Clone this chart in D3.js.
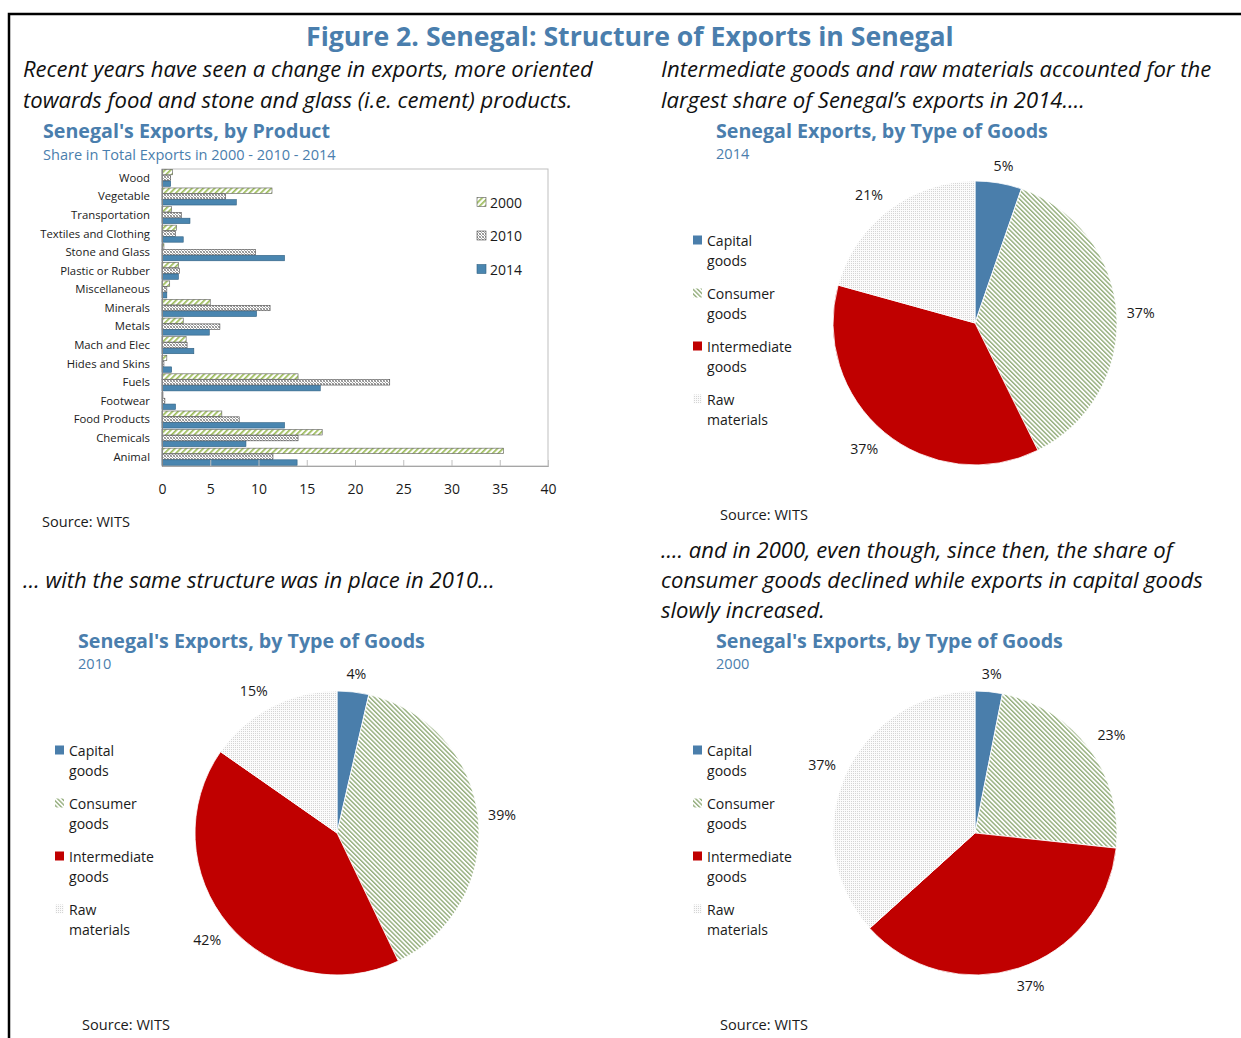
<!DOCTYPE html>
<html><head><meta charset="utf-8">
<script src="https://cdn.jsdelivr.net/npm/d3@7"></script>
<style>body{margin:0;background:#fff}svg{display:block}</style>
</head><body>
<script>
// ---------- DATA ----------
const categories = ["Wood","Vegetable","Transportation","Textiles and Clothing","Stone and Glass","Plastic or Rubber","Miscellaneous","Minerals","Metals","Mach and Elec","Hides and Skins","Fuels","Footwear","Food Products","Chemicals","Animal"];
const years = ["2000","2010","2014"];
const share2000 = [1.1, 11.4, 1.0, 1.5, 0.2, 1.7, 0.8, 5.0, 2.2, 2.5, 0.5, 14.1, 0.1, 6.2, 16.6, 35.4];
const share2010 = [0.9, 6.6, 2.0, 1.4, 9.7, 1.8, 0.5, 11.2, 6.0, 2.6, 0.2, 23.6, 0.3, 8.0, 14.1, 11.5];
const share2014 = [0.9, 7.7, 2.9, 2.2, 12.7, 1.7, 0.5, 9.8, 4.9, 3.3, 1.0, 16.4, 1.4, 12.7, 8.7, 14.0];
const xTicks = [0,5,10,15,20,25,30,35,40];

const goodsTypes = ["Capital goods","Consumer goods","Intermediate goods","Raw materials"];
const goods2014 = [5.3, 37.4, 36.6, 20.7];
const goods2010 = [3.6, 39.3, 41.8, 15.3];
const goods2000 = [3.1, 23.6, 36.6, 36.7];
const labels2014 = ["5%","37%","37%","21%"];
const labels2010 = ["4%","39%","42%","15%"];
const labels2000 = ["3%","23%","37%","37%"];

// ---------- SETUP ----------
const W = 1241, H = 1038;
const FONT = "'Open Sans', 'Noto Sans', sans-serif";
const BLUE_T = "#4a7ead";
const svg = d3.select("body").append("svg").attr("width", W).attr("height", H)
  .style("font-family", FONT);

const defs = svg.append("defs");
// consumer goods: fine green diagonal "\" lines
const pCons = defs.append("pattern").attr("id","pCons").attr("patternUnits","userSpaceOnUse")
  .attr("width",3.2).attr("height",3.2).attr("patternTransform","rotate(-45)");
pCons.append("rect").attr("width",3.2).attr("height",3.2).attr("fill","#fff");
pCons.append("rect").attr("width",1.4).attr("height",3.2).attr("fill","#93ad7b");
// raw materials: faint dot grid
const pRaw = defs.append("pattern").attr("id","pRaw").attr("patternUnits","userSpaceOnUse")
  .attr("width",2).attr("height",2);
pRaw.append("rect").attr("width",2).attr("height",2).attr("fill","#fbfbfb");
pRaw.append("rect").attr("width",1).attr("height",1).attr("fill","#d4d4d4");
// 2000 bars: green "/" stripes
const p2000 = defs.append("pattern").attr("id","p2000").attr("patternUnits","userSpaceOnUse")
  .attr("width",4).attr("height",4).attr("patternTransform","rotate(45)");
p2000.append("rect").attr("width",4).attr("height",4).attr("fill","#fff");
p2000.append("rect").attr("width",1.7).attr("height",4).attr("fill","#9bbb59");
// 2010 bars: gray small checker / cross hatch
const p2010 = defs.append("pattern").attr("id","p2010").attr("patternUnits","userSpaceOnUse")
  .attr("width",3).attr("height",3);
p2010.append("rect").attr("width",3).attr("height",3).attr("fill","#fff");
p2010.append("rect").attr("x",0).attr("y",0).attr("width",1).attr("height",1).attr("fill","#8c8c8c");
p2010.append("rect").attr("x",1).attr("y",1).attr("width",1).attr("height",1).attr("fill","#a6a6a6");
p2010.append("rect").attr("x",2).attr("y",2).attr("width",1).attr("height",1).attr("fill","#8c8c8c");
p2010.append("rect").attr("x",2).attr("y",0).attr("width",1).attr("height",1).attr("fill","#b0b0b0");
p2010.append("rect").attr("x",0).attr("y",2).attr("width",1).attr("height",1).attr("fill","#b0b0b0");

// helper: place text and fit to a target width
function txt(g, s, x, y, opts) {
  const t = g.append("text").attr("x", x).attr("y", y).text(s)
    .attr("font-size", opts.size || 14)
    .attr("fill", opts.fill || "#1a1a1a")
    .attr("dominant-baseline", "central");
  if (opts.weight) t.attr("font-weight", opts.weight);
  if (opts.italic) t.attr("font-style", "italic");
  if (opts.anchor) t.attr("text-anchor", opts.anchor);
  if (opts.width) {
    const l = t.node().getComputedTextLength();
    t.attr("font-size", (opts.size || 14) * opts.width / l);
  }
  return t;
}
function fitSize(s, width, base, weight, italic) {
  const t = svg.append("text").text(s).attr("font-size", base);
  if (weight) t.attr("font-weight", weight);
  if (italic) t.attr("font-style", "italic");
  const l = t.node().getComputedTextLength();
  t.remove();
  return base * width / l;
}

// frame
svg.append("rect").attr("x", 9).attr("y", 14).attr("width", 1300).attr("height", 1100)
  .attr("fill", "none").attr("stroke", "#000").attr("stroke-width", 2.5);

// main title
txt(svg, "Figure 2. Senegal: Structure of Exports in Senegal", 306, 35.5, {size: 26, weight: 700, fill: BLUE_T, width: 648});

// italic narrative
const itSize = fitSize("consumer goods declined while exports in capital goods", 542, 20, null, true);
const it = (s, x, y) => txt(svg, s, x, y, {size: itSize, italic: true, fill: "#111"});
it("Recent years have seen a change in exports, more oriented", 23, 68);
it("towards food and stone and glass (i.e. cement) products.", 23, 99);
it("Intermediate goods and raw materials accounted for the", 661, 68);
it("largest share of Senegal\u2019s exports in 2014\u2026.", 661, 99);
it("\u2026 with the same structure was in place in 2010\u2026", 23, 579);
it(".... and in 2000, even though, since then, the share of", 661, 549);
it("consumer goods declined while exports in capital goods", 661, 579);
it("slowly increased.", 661, 609);

const ttlSize = fitSize("Senegal's Exports, by Type of Goods", 347, 18, 700);
const subSize = fitSize("Share in Total Exports in 2000 - 2010 - 2014", 293, 13);
const srcSize = fitSize("Source: WITS", 88, 13);

// ---------- BAR CHART ----------
const bar = svg.append("g");
txt(bar, "Senegal's Exports, by Product", 43, 130, {size: ttlSize, weight: 700, fill: BLUE_T});
txt(bar, "Share in Total Exports in 2000 - 2010 - 2014", 43, 154, {size: subSize, fill: BLUE_T});
txt(bar, "Source: WITS", 42, 521, {size: srcSize});

const x = d3.scaleLinear().domain([0, 40]).range([162, 548]);
const y = d3.scaleBand().domain(categories).range([169, 466]).paddingInner(0.06).paddingOuter(0.02);
const ySub = d3.scaleBand().domain(years).range([0, y.bandwidth()]);
const series = {"2000": share2000, "2010": share2010, "2014": share2014};
const fills = {"2000": "url(#p2000)", "2010": "url(#p2010)", "2014": "#4a86b0"};
const strokes = {"2000": "#5a5a5a", "2010": "#4d4d4d", "2014": "#2f5f80"};

// plot area border
bar.append("rect").attr("x", x(0)).attr("y", 169).attr("width", x(40) - x(0)).attr("height", 466 - 169)
  .attr("fill", "none").attr("stroke", "#bfbfbf").attr("stroke-width", 1);

years.forEach(yr => {
  bar.append("g").selectAll("rect").data(categories).join("rect")
    .attr("x", x(0))
    .attr("y", (c) => y(c) + ySub(yr))
    .attr("width", (c, i) => x(series[yr][i]) - x(0))
    .attr("height", ySub.bandwidth() - 0.4)
    .attr("fill", fills[yr])
    .attr("stroke", strokes[yr]).attr("stroke-width", 0.6);
});

// x axis (ticks inward)
const xAxis = d3.axisBottom(x).tickValues(xTicks).tickSize(-6).tickPadding(18).tickFormat(d3.format("d"));
const gx = bar.append("g").attr("transform", "translate(0,466)").call(xAxis);
gx.select(".domain").attr("stroke", "#a6a6a6");
gx.selectAll(".tick line").attr("stroke", "#bfbfbf");
gx.selectAll(".tick text").attr("font-size", 14).attr("fill", "#1a1a1a").style("font-family", FONT);

// y axis
const catSize = fitSize("Textiles and Clothing", 110, 12);
const yAxis = d3.axisLeft(y).tickSize(0).tickPadding(12);
const gy = bar.append("g").attr("transform", `translate(${x(0)},0)`).call(yAxis);
gy.select(".domain").attr("stroke", "#868686");
gy.selectAll(".tick text").attr("font-size", catSize).attr("fill", "#1a1a1a").style("font-family", FONT);

// legend
const lgSize = fitSize("2000", 32, 14);
years.forEach((yr, i) => {
  const ly = 202 + i * 33.5;
  bar.append("rect").attr("x", 477).attr("y", ly - 4.5).attr("width", 9).attr("height", 9)
    .attr("fill", fills[yr]).attr("stroke", strokes[yr]).attr("stroke-width", 0.6);
  txt(bar, yr, 490, ly, {size: lgSize});
});

// ---------- PIES ----------
const pieFills = ["#4a7eab", "url(#pCons)", "#c00000", "url(#pRaw)"];
const legSize = fitSize("Intermediate", 85, 14);
const pctSize = fitSize("37%", 28, 14);

function drawPie(cfg) {
  const g = svg.append("g");
  txt(g, cfg.title, cfg.tx, cfg.ty, {size: ttlSize, weight: 700, fill: BLUE_T});
  txt(g, cfg.year, cfg.tx, cfg.ty + 23, {size: subSize, fill: BLUE_T});
  txt(g, "Source: WITS", cfg.sx, cfg.sy, {size: srcSize});

  const pie = d3.pie().sort(null).value(d => d)(cfg.values);
  const arc = d3.arc().innerRadius(0).outerRadius(cfg.r);
  const pg = g.append("g").attr("transform", `translate(${cfg.cx},${cfg.cy})`);
  pg.selectAll("path").data(pie).join("path")
    .attr("d", arc)
    .attr("fill", (d, i) => pieFills[i])
    .attr("stroke", "#fff").attr("stroke-width", 0.8);
  // labels outside end: anchor point on radius r+gap, then push the box outward
  const gap = 10, hh = 8, k = 2;
  const clamp = v => Math.max(-1, Math.min(1, v));
  pg.selectAll("text").data(pie).join("text")
    .attr("text-anchor", "middle").attr("dominant-baseline", "central")
    .attr("font-size", pctSize).attr("fill", "#1a1a1a")
    .text((d, i) => cfg.labels[i])
    .each(function(d) {
      const a = (d.startAngle + d.endAngle) / 2;
      const sx = Math.sin(a), sy = -Math.cos(a);
      const hw = this.getComputedTextLength() / 2;
      const px = sx * (cfg.r + gap) + clamp(sx * k) * hw;
      const py = sy * (cfg.r + gap) + clamp(sy * k) * hh;
      d3.select(this).attr("x", px).attr("y", py);
    });

  // legend
  goodsTypes.forEach((name, i) => {
    const ly = cfg.ly + i * 53;
    const parts = name.split(" ");
    g.append("rect").attr("x", cfg.lx).attr("y", ly - 4.5).attr("width", 9).attr("height", 9)
      .attr("fill", pieFills[i]);
    txt(g, parts[0], cfg.lx + 14, ly, {size: legSize});
    txt(g, parts[1], cfg.lx + 14, ly + 20, {size: legSize});
  });
}

drawPie({title: "Senegal Exports, by Type of Goods", year: "2014", tx: 716, ty: 130,
  values: goods2014, labels: labels2014, cx: 975, cy: 323, r: 142,
  lx: 693, ly: 240, sx: 720, sy: 514});
drawPie({title: "Senegal's Exports, by Type of Goods", year: "2010", tx: 78, ty: 640,
  values: goods2010, labels: labels2010, cx: 337, cy: 833, r: 142,
  lx: 55, ly: 750, sx: 82, sy: 1024});
drawPie({title: "Senegal's Exports, by Type of Goods", year: "2000", tx: 716, ty: 640,
  values: goods2000, labels: labels2000, cx: 975, cy: 833, r: 142,
  lx: 693, ly: 750, sx: 720, sy: 1024});
</script>
</body></html>
